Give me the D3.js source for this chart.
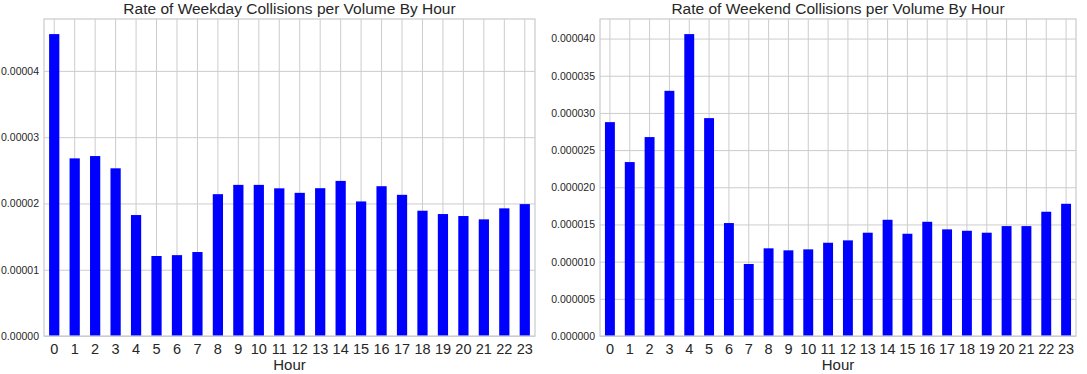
<!DOCTYPE html>
<html>
<head>
<meta charset="utf-8">
<script src="https://cdn.jsdelivr.net/npm/d3@7"></script>
<style>
  html, body { margin: 0; padding: 0; background: #ffffff; }
  svg { display: block; }
  text { font-family: "Liberation Sans", Arial, sans-serif; fill: #262626; }
</style>
</head>
<body>
<svg id="chart" width="1087" height="374"></svg>
<script>
const hours = d3.range(0, 24).map(String);

const weekdayRates = [
  4.555e-5, 2.68e-5, 2.715e-5, 2.53e-5, 1.825e-5, 1.207e-5, 1.22e-5, 1.267e-5,
  2.14e-5, 2.28e-5, 2.28e-5, 2.228e-5, 2.16e-5, 2.23e-5, 2.34e-5, 2.03e-5,
  2.26e-5, 2.13e-5, 1.89e-5, 1.84e-5, 1.81e-5, 1.76e-5, 1.926e-5, 1.99e-5
];

const weekendRates = [
  2.876e-5, 2.339e-5, 2.675e-5, 3.297e-5, 4.06e-5, 2.93e-5, 1.519e-5, 9.68e-6,
  1.179e-5, 1.152e-5, 1.165e-5, 1.254e-5, 1.286e-5, 1.389e-5, 1.563e-5, 1.375e-5,
  1.536e-5, 1.434e-5, 1.415e-5, 1.389e-5, 1.478e-5, 1.478e-5, 1.671e-5, 1.778e-5
];

const weekdayTicks = [0, 0.00001, 0.00002, 0.00003, 0.00004];
const weekendTicks = [0, 0.000005, 0.00001, 0.000015, 0.00002, 0.000025, 0.00003, 0.000035, 0.00004];

const titles = [
  "Rate of Weekday Collisions per Volume By Hour",
  "Rate of Weekend Collisions per Volume By Hour"
];

const panels = [
  { title: titles[0], values: weekdayRates, ticks: weekdayTicks, decimals: 5, x0: 44, x1: 535 },
  { title: titles[1], values: weekendRates, ticks: weekendTicks, decimals: 6, x0: 600, x1: 1076 }
];

const plotTop = 19, plotBottom = 336;
const gridColor = "#cccccc";
const svg = d3.select("#chart");

panels.forEach(p => {
  const g = svg.append("g");
  const x = d3.scaleBand().domain(hours).range([p.x0, p.x1]).paddingInner(0.5).paddingOuter(0.25);
  const y = d3.scaleLinear().domain([0, d3.max(p.values) * 1.05]).range([plotBottom, plotTop]);

  // horizontal grid
  const yAxis = d3.axisLeft(y).tickValues(p.ticks).tickSize(-(p.x1 - p.x0)).tickPadding(5)
    .tickFormat(d => d.toFixed(p.decimals));
  const ya = g.append("g").attr("transform", `translate(${p.x0},0)`).call(yAxis);
  ya.select(".domain").remove();
  ya.selectAll("line").attr("stroke", gridColor).attr("stroke-width", 1);
  ya.selectAll("text").attr("font-size", "10.5px").attr("fill", "#262626")
    .style("font-family", "'Liberation Sans', Arial, sans-serif");

  // vertical grid + x tick labels
  const xAxis = d3.axisBottom(x).tickSize(-(plotBottom - plotTop)).tickPadding(0);
  const xa = g.append("g").attr("transform", `translate(0,${plotBottom})`).call(xAxis);
  xa.select(".domain").remove();
  xa.selectAll("line").attr("stroke", gridColor).attr("stroke-width", 1);
  xa.selectAll("text").attr("font-size", "14.5px").attr("fill", "#262626")
    .attr("dy", null).attr("y", 17.5)
    .style("font-family", "'Liberation Sans', Arial, sans-serif");

  // bars
  g.append("g").selectAll("rect").data(p.values).join("rect")
    .attr("x", (d, i) => x(hours[i]))
    .attr("width", x.bandwidth())
    .attr("y", d => y(d))
    .attr("height", d => y(0) - y(d))
    .attr("fill", "#0000ff");

  // frame
  g.append("rect").attr("x", p.x0).attr("y", plotTop)
    .attr("width", p.x1 - p.x0).attr("height", plotBottom - plotTop)
    .attr("fill", "none").attr("stroke", gridColor).attr("stroke-width", 1.25);

  // title
  g.append("text").attr("x", (p.x0 + p.x1) / 2).attr("y", 14)
    .attr("text-anchor", "middle").attr("font-size", "15.5px").text(p.title);

  // x label
  g.append("text").attr("x", (p.x0 + p.x1) / 2).attr("y", 370)
    .attr("text-anchor", "middle").attr("font-size", "15px").text("Hour");
});
</script>
</body>
</html>
